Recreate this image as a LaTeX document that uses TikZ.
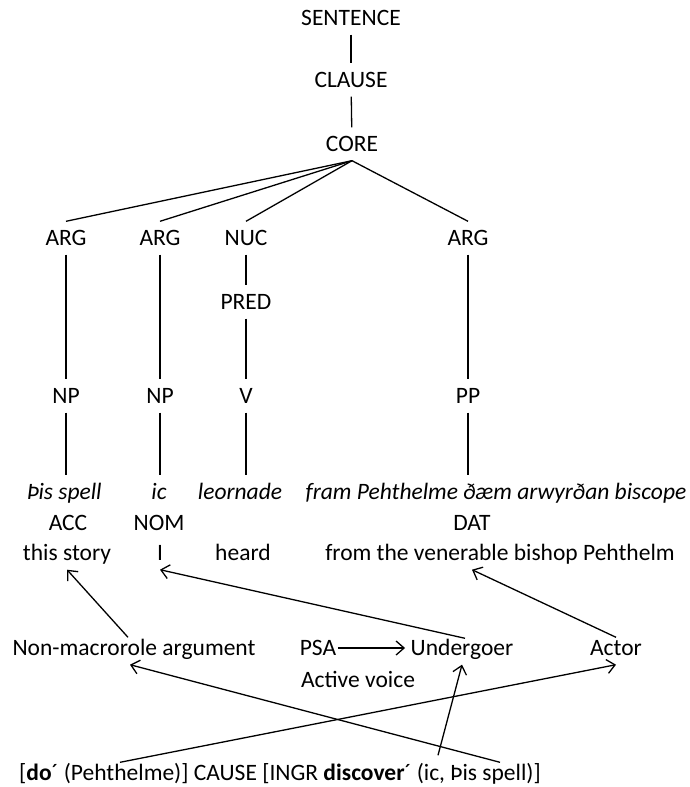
\documentclass[tikz,border=0pt]{standalone}
\usepackage{fontspec}
\setmainfont{Carlito}
\usetikzlibrary{arrows.meta,calc}
\begin{document}
\begin{tikzpicture}[x=1pt,y=-1pt,
  lbl/.style={inner xsep=1.5pt, inner ysep=6pt, text height=18pt, text depth=3pt, font=\fontsize{23.5}{28}\selectfont},
  itl/.style={lbl, font=\fontsize{23.5}{28}\selectfont\itshape},
  edge/.style={line width=1.3pt},
  arr/.style={line width=1.3pt, -{Straight Barb[length=8pt,width=14pt,line width=1.3pt]}}
]
\useasboundingbox (0,0) rectangle (689,787);
% tree labels
\node[lbl] (sent) at (351,18) {SENTENCE};
\node[lbl] (clause) at (351,80) {CLAUSE};
\node[lbl] (core) at (352,144) {CORE};
\node[lbl] (arg1) at (66,238) {ARG};
\node[lbl] (arg2) at (160,238) {ARG};
\node[lbl] (nuc) at (246,238) {NUC};
\node[lbl] (arg3) at (468,238) {ARG};
\node[lbl] (pred) at (246,302) {PRED};
\node[lbl] (np1) at (66,396) {NP};
\node[lbl] (np2) at (160,396) {NP};
\node[lbl] (v) at (246,396) {V};
\node[lbl] (pp) at (468,396) {PP};
% words
\node[itl] (w1) at (64,492) {Þis spell};
\node[itl] (w2) at (159,492) {ic};
\node[itl] (w3) at (240,492) {leornade};
\node[itl] (w4) at (496,492) {fram Pehthelme ðæm arwyrðan biscope};
\node[lbl] (c1) at (68,523) {ACC};
\node[lbl] (c2) at (159,523) {NOM};
\node[lbl] (c4) at (472,523) {DAT};
\node[lbl] (g1) at (67,553) {this story};
\node[lbl] (g2) at (160,553) {I};
\node[lbl] (g3) at (243,553) {heard};
\node[lbl] (g4) at (500,553) {from the venerable bishop Pehthelm};
% roles
\node[lbl] (nmr) at (134,648) {Non-macrorole argument};
\node[lbl] (psa) at (318,648) {PSA};
\node[lbl] (und) at (462,648) {Undergoer};
\node[lbl] (act) at (616,648) {Actor};
\node[lbl] (voice) at (358,680) {Active voice};
\node[lbl] (lsf) at (280,773) {[\textbf{do}´ (Pehthelme)] CAUSE [INGR \textbf{discover}´ (ic, Þis spell)]};
% tree edges
\draw[edge] (sent) -- (clause);
\draw[edge] (clause) -- (core);
\draw[edge] (core.south) -- (arg1.north);
\draw[edge] (core.south) -- (arg2.north);
\draw[edge] (core.south) -- (nuc.north);
\draw[edge] (core.south) -- (arg3.north);
\draw[edge] (arg1) -- (np1);
\draw[edge] (arg2) -- (np2);
\draw[edge] (nuc) -- (pred);
\draw[edge] (pred) -- (v);
\draw[edge] (arg3) -- (pp);
\draw[edge] (np1.south) -- (np1.south |- w1.north);
\draw[edge] (np2.south) -- (np2.south |- w2.north);
\draw[edge] (v.south) -- (v.south |- w3.north);
\draw[edge] (pp.south) -- (pp.south |- w4.north);
% linking arrows
\draw[arr] ([xshift=-6pt,yshift=-6pt]nmr.north) -- (g1.south);
\draw[arr] ([xshift=3pt,yshift=-7pt]und.north) -- (g2.south);
\draw[arr] ([yshift=-6pt]act.north) -- ([xshift=-28pt]g4.south);
\draw[arr, shorten >=4pt] (psa.east) -- (und.west);
\draw[arr] ([xshift=-160pt,yshift=-6pt]lsf.north) -- (act.south);
\draw[arr] ([xshift=158pt,yshift=1pt]lsf.north) -- (und.south);
\draw[arr] ([xshift=220pt,yshift=-6pt]lsf.north) -- ([xshift=-4pt]nmr.south);
\end{tikzpicture}
\end{document}
